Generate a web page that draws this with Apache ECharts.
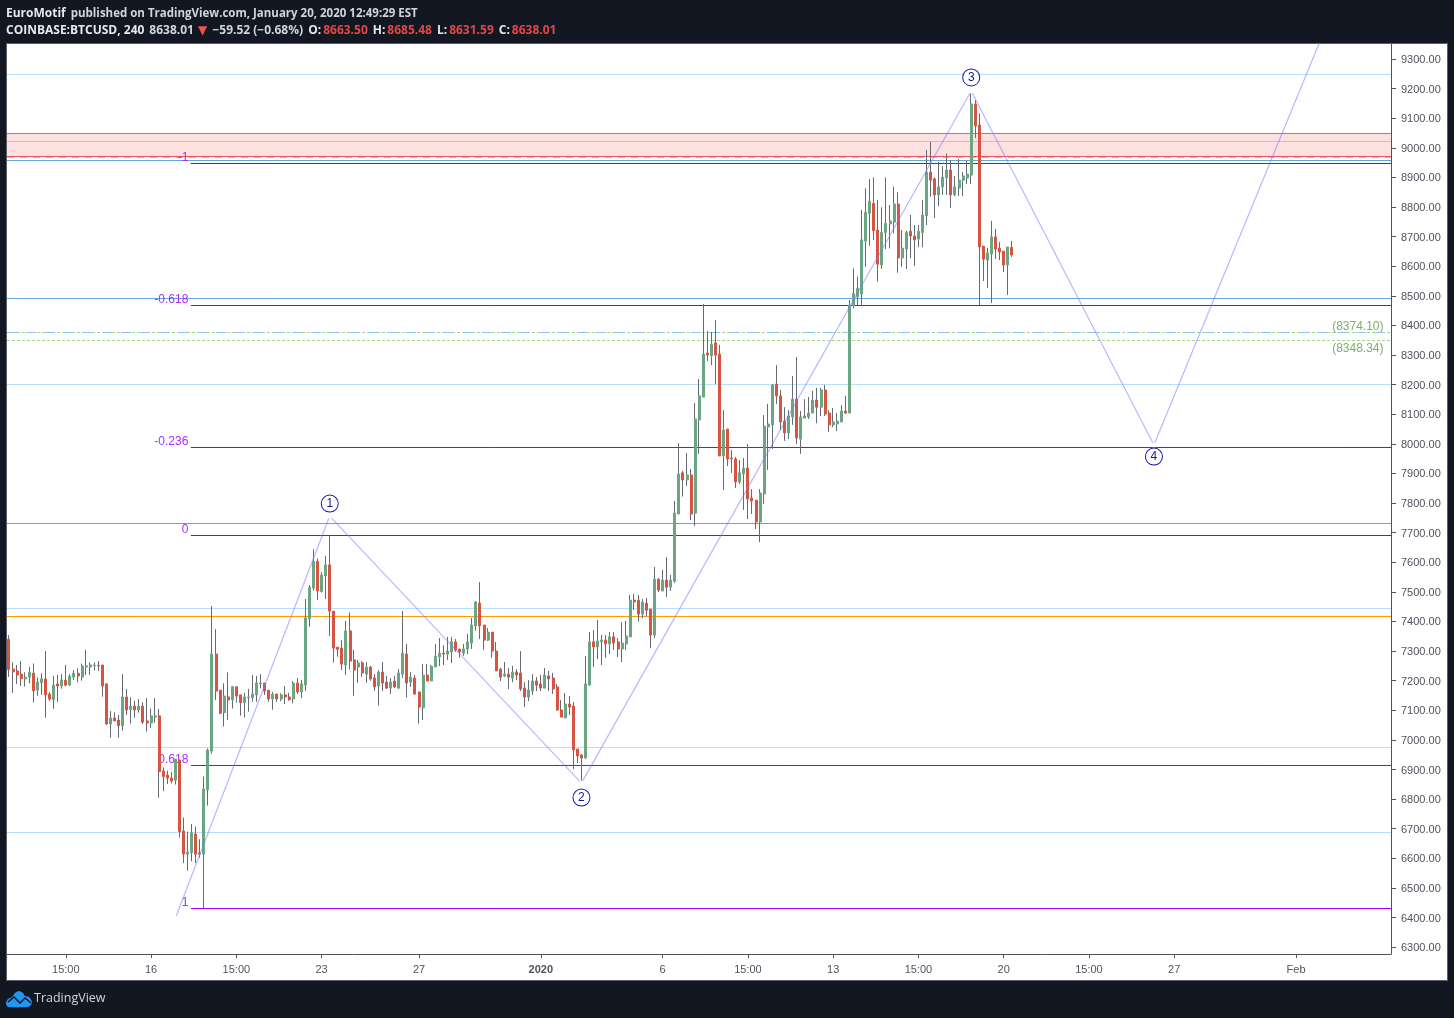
<!DOCTYPE html>
<html><head><meta charset="utf-8">
<style>html,body{margin:0;padding:0;background:#131722}#c{width:1454px;height:1018px}</style>
<script src="https://cdn.jsdelivr.net/npm/echarts@6/dist/echarts.min.js"></script>
</head><body><div id="c"></div>
<script>
// [open, close, low, high]
const ohlc = [
[7340,7238,7213,7354],[7239,7230,7159,7262],[7233,7219,7189,7253],[7222,7207,7182,7266],[7206,7212,7180,7228],[7212,7228,7191,7247],[7225,7166,7126,7258],[7168,7195,7149,7211],[7193,7206,7152,7225],[7206,7152,7075,7300],
[7155,7138,7132,7161],[7136,7185,7105,7216],[7189,7182,7128,7219],[7182,7202,7173,7222],[7202,7185,7180,7253],[7185,7215,7183,7222],[7212,7225,7202,7236],[7225,7216,7194,7242],[7212,7250,7200,7258],[7246,7250,7219,7304],
[7246,7253,7219,7262],[7250,7252,7234,7262],[7252,7250,7233,7266],[7253,7182,7146,7253],[7189,7054,7051,7191],[7054,7074,7007,7097],[7074,7064,7064,7093],[7067,7048,7007,7084],[7048,7145,7031,7222],[7145,7101,7084,7172],
[7103,7114,7055,7144],[7114,7101,7075,7132],[7101,7114,7092,7138],[7114,7060,7054,7127],[7064,7057,7028,7141],[7057,7081,7041,7106],[7077,7081,7058,7141],[7081,6893,6805,7104],[6895,6876,6827,6907],[6881,6871,6851,6896],
[6871,6861,6853,6891],[6864,6935,6849,6935],[6932,6690,6670,6932],[6692,6614,6584,6738],[6614,6621,6558,6690],[6619,6686,6590,6716],[6682,6614,6584,6707],[6618,6614,6602,6664],[6614,6834,6431,6876],[6831,6966,6778,6971],
[6962,7290,6953,7452],[7290,7165,7135,7374],[7168,7090,7087,7168],[7092,7148,7045,7191],[7145,7135,7067,7228],[7135,7180,7106,7180],[7179,7148,7126,7182],[7152,7126,7082,7152],[7126,7145,7075,7159],[7143,7145,7095,7172],
[7143,7155,7129,7219],[7152,7192,7129,7216],[7189,7192,7174,7222],[7192,7165,7152,7192],[7168,7138,7129,7168],[7138,7155,7102,7162],[7155,7138,7128,7155],[7138,7152,7131,7157],[7152,7145,7121,7182],[7145,7136,7132,7159],
[7138,7192,7124,7199],[7192,7162,7155,7209],[7162,7189,7141,7202],[7185,7412,7165,7476],[7409,7515,7382,7523],[7513,7602,7505,7644],[7602,7503,7472,7613],[7501,7557,7498,7566],[7554,7591,7476,7621],[7591,7435,7351,7690],
[7435,7310,7261,7435],[7313,7306,7281,7313],[7310,7256,7236,7337],[7253,7368,7219,7402],[7368,7266,7238,7430],[7270,7236,7149,7304],[7246,7260,7193,7270],[7260,7226,7213,7266],[7222,7246,7193,7263],[7246,7206,7200,7250],
[7209,7179,7165,7222],[7182,7229,7116,7236],[7229,7192,7165,7263],[7195,7175,7172,7216],[7175,7195,7155,7209],[7199,7179,7175,7216],[7175,7226,7172,7239],[7222,7293,7209,7435],[7290,7192,7143,7324],[7195,7212,7179,7229],
[7209,7155,7152,7219],[7162,7111,7055,7162],[7108,7219,7067,7256],[7219,7199,7199,7256],[7199,7249,7199,7253],[7246,7283,7246,7324],[7280,7293,7249,7344],[7293,7290,7253,7320],[7290,7300,7270,7348],[7297,7331,7260,7348],
[7331,7304,7297,7341],[7307,7297,7277,7307],[7293,7307,7284,7324],[7307,7331,7290,7358],[7327,7388,7307,7412],[7385,7466,7368,7469],[7462,7385,7341,7533],[7388,7337,7304,7388],[7337,7364,7334,7378],[7364,7300,7277,7364],
[7300,7233,7233,7331],[7239,7212,7199,7243],[7216,7222,7212,7263],[7222,7212,7172,7243],[7209,7229,7195,7250],[7229,7219,7202,7239],[7226,7172,7165,7300],[7175,7145,7111,7195],[7145,7168,7131,7202],[7165,7199,7152,7222],
[7199,7185,7165,7212],[7189,7175,7165,7219],[7175,7219,7175,7243],[7216,7206,7165,7233],[7209,7172,7155,7226],[7179,7101,7098,7189],[7101,7077,7077,7135],[7074,7121,7074,7158],[7121,7111,7084,7148],[7114,6966,6902,7128],
[6969,6946,6922,6969],[6949,6939,6851,6952],[6939,7189,6935,7283],[7185,7331,7185,7364],[7331,7314,7246,7371],[7314,7334,7273,7405],[7331,7337,7253,7354],[7337,7324,7277,7354],[7324,7348,7290,7364],[7348,7327,7304,7364],
[7331,7307,7280,7344],[7307,7327,7263,7398],[7324,7351,7304,7402],[7348,7472,7348,7489],[7472,7466,7439,7493],[7472,7425,7399,7489],[7425,7465,7411,7476],[7462,7438,7418,7479],[7442,7354,7310,7442],[7354,7543,7344,7584],
[7543,7506,7499,7546],[7503,7540,7503,7574],[7540,7516,7482,7617],[7516,7540,7503,7557],[7536,7766,7530,7807],[7763,7898,7763,8002],[7902,7878,7822,7908],[7878,7895,7858,7969],[7895,7763,7743,7915],[7766,8084,7723,8138],
[8081,8162,7966,8219],[8158,8303,8158,8472],[8307,8300,8280,8381],[8297,8337,8266,8378],[8341,8300,8202,8418],[8303,7959,7959,8334],[7959,8047,7844,8114],[8050,7949,7925,8050],[7952,7949,7902,7979],[7949,7871,7851,7956],
[7871,7902,7864,7945],[7898,7918,7777,7952],[7918,7814,7746,7999],[7817,7807,7763,7847],[7810,7736,7712,7810],[7736,7834,7668,7847],[7831,8060,7797,8097],[8057,8067,7912,8135],[8064,8199,7983,8202],[8202,8162,8135,8266],
[8162,8074,8047,8182],[8077,8037,8010,8124],[8037,8094,8016,8114],[8091,8151,8064,8229],[8151,8020,8000,8293],[8016,8091,7966,8111],[8087,8094,8087,8151],[8091,8104,8084,8158],[8104,8148,8104,8179],[8148,8124,8070,8189],
[8124,8182,8094,8189],[8182,8101,8094,8199],[8104,8064,8040,8114],[8064,8074,8057,8121],[8067,8077,8043,8104],[8074,8111,8074,8131],[8111,8104,8101,8162],[8104,8469,8104,8486],[8466,8508,8458,8593],[8497,8525,8469,8565],
[8506,8689,8466,8790],[8685,8782,8598,8863],[8779,8820,8669,8895],[8812,8720,8689,8900],[8722,8607,8548,8824],[8605,8714,8591,8799],[8714,8745,8658,8900],[8743,8753,8660,8807],[8749,8810,8711,8869],[8810,8628,8578,8850],
[8628,8661,8598,8722],[8658,8714,8591,8720],[8718,8702,8627,8773],[8702,8689,8601,8739],[8692,8718,8664,8739],[8714,8773,8664,8824],[8770,8918,8739,8993],[8918,8891,8835,9020],[8895,8841,8763,8901],[8841,8868,8803,8952],
[8868,8901,8841,8938],[8898,8925,8841,8981],[8925,8841,8797,8959],[8841,8868,8837,8905],[8864,8891,8837,8962],[8891,8905,8837,8918],[8898,8911,8878,8957],[8908,9148,8878,9184],[9148,9074,9033,9161],[9077,8665,8469,9116],
[8668,8624,8550,8668],[8621,8645,8526,8662],[8641,8699,8476,8753],[8699,8658,8624,8726],[8661,8648,8621,8682],[8651,8604,8580,8651],[8604,8665,8503,8665],[8663.5,8638.01,8631.59,8685.48]
];
const priceTicks = [6300,6400,6500,6600,6700,6800,6900,7000,7100,7200,7300,7400,7500,7600,7700,7800,7900,8000,8100,8200,8300,8400,8500,8600,8700,8800,8900,9000,9100,9200,9300];
const timeTickBars = [14,35,56,77,101,131,161,182,203,224,245,266,287,317];
const timeTickLabels = ['15:00','16','15:00','23','27','2020','6','15:00','13','15:00','20','15:00','27','Feb'];
const lightLevels = [9247.7,8200.5,7443.8,6974.3,6687.1];
const innerLevel = 9021.3;
const blueLevels = [8957.2,8491.0,7730.9];
const fibLevels = [8947.0,8467.3,7987.7,7690.4,6913.5,6430.4];
const fibNames = ['-1','-0.618','-0.236','0','0.618','1'];
const zoneTop = 9048.4, zoneBottom = 8970.7, zoneDash = 8967.3;
const orangeLevel = 7416.8;
const dashBlueLevel = 8376.1;
const greenLevels = [8376.1,8349.1];
const greenNames = ['(8374.10)','(8348.34)'];
const waveBars = [41,79,141,237,282,328];
const wavePrices = [6398,7756,6854,9192,7996,9530];
const waveNames = ['','1','2','3','4',''];
const waveLabelGap = [0,10,12,11,9,0];

const XMIN = -0.49, XMAX = 340.39, FIB_START = 44.8;
const sans = '"Liberation Sans", Arial, sans-serif';
const head = '"Open Sans", sans-serif';
const C_UP = '#6ba583', C_DN = '#d75442', C_WICK = '#666a72', C_AXIS = '#50535e';

function hLine(price, color, width, type, start, z) {
  return {type:'line', data:[[start,price],[XMAX,price]], symbol:'none', silent:true, animation:false, z:z,
    lineStyle:{color:color,width:width,type:type||'solid'}};
}
const hiddenDot = {symbol:'circle',symbolSize:1,itemStyle:{color:'rgba(0,0,0,0)',borderWidth:0}};
const series = [];
series.push({type:'line', data:[], silent:true, animation:false, z:1,
  markArea:{silent:true, itemStyle:{color:'#fde0e0'}, data:[[{xAxis:XMIN,yAxis:zoneTop},{xAxis:XMAX,yAxis:zoneBottom}]]}});
series.push(hLine(zoneTop,'#ef5f58',1,'solid',XMIN,2));
series.push(hLine(zoneBottom,'#ef5350',1,'solid',XMIN,2));
series.push(hLine(zoneDash,'#b8bcc4',1,[7,6],XMIN,2));
series.push(hLine(innerLevel,'#a3cdf0',1,'solid',XMIN,2));
lightLevels.forEach(p => series.push(hLine(p,'#b8dffb',1,'solid',XMIN,2)));
blueLevels.forEach(p => series.push(hLine(p,'#62a6e0',1,'solid',XMIN,2)));
series.push(hLine(orangeLevel,'#ff9800',1,'solid',XMIN,3));
greenLevels.forEach((p,k) => {
  const s = hLine(p,'#a5d48c',1,[3,2],XMIN,2);
  s.data = [[XMIN,p],Object.assign({value:[XMAX,p],label:{show:true,position:'left',distance:2,formatter:greenNames[k],color:'#7bb06a',fontSize:12,fontFamily:sans,offset:[-5,k===0?-5.5:8]}},hiddenDot)];
  series.push(s);
});
series.push(hLine(dashBlueLevel,'#8fc1ee',1,[10,9],XMIN,3));
fibLevels.forEach((p,k) => {
  const s = hLine(p, k===5 ? '#9900ff' : '#7a10cc', 1, 'solid', FIB_START, 3);
  s.data = [Object.assign({value:[FIB_START,p],label:{show:true,position:'left',distance:2,formatter:fibNames[k],color:'#a62cff',fontSize:12,fontFamily:sans,offset:[0,-6]}},hiddenDot),[XMAX,p]];
  series.push(s);
});
series.push({type:'candlestick', name:'wick', data: ohlc.map((d,i)=>[i,d[0],d[1],d[2],d[3]]), barWidth:1, silent:true, animation:false, z:4,
  itemStyle:{color:C_WICK,color0:C_WICK,borderColor:C_WICK,borderColor0:C_WICK,borderWidth:1}});
series.push({type:'candlestick', name:'BTCUSD', data: ohlc.map((d,i)=>[i,d[0],d[1],Math.min(d[0],d[1]),Math.max(d[0],d[1])]), barWidth:2.5, silent:true, animation:false, z:5,
  itemStyle:{color:C_UP,color0:C_DN,borderColor:C_UP,borderColor0:C_DN,borderWidth:1}});
series.push({type:'line', silent:true, animation:false, z:6,
  data: waveBars.map((b,k)=>({value:[b,wavePrices[k]],
    symbol: k===5?'none':'emptyCircle', symbolSize:3,
    label: waveNames[k] ? {show:true, formatter:waveNames[k], position:(k===2||k===4)?'bottom':'top', distance:waveLabelGap[k],
      width:16,height:16,lineHeight:16,align:'center',verticalAlign:'middle',borderRadius:8.5,borderWidth:1,borderColor:'#1212a8',backgroundColor:'#fff',color:'#14148c',fontSize:12,fontFamily:sans} : {show:false}})),
  lineStyle:{color:'rgba(120,120,255,0.5)',width:1.3},
  itemStyle:{color:'#fff',borderColor:'rgba(120,120,255,0.7)',borderWidth:1}
});

const chart = echarts.init(document.getElementById('c'), null, {renderer:'canvas'});
const bStyle = {fontWeight:'bold',color:'#e6e8ee',fontSize:12,fontFamily:head};
const nStyle = {color:'#d1d4dc',fontSize:12,fontFamily:head};
chart.setOption({
  animation:false,
  backgroundColor:'#131722',
  title:[
    {left:6,top:5,padding:0,text:'{b|EuroMotif} {n|published on TradingView.com, January 20, 2020 12:49:29 EST}',
      textStyle:{rich:{b:bStyle,n:{color:'#d1d4dc',fontSize:11.5,fontFamily:head}}}},
    {left:6,top:22,padding:0,text:'{b|COINBASE:BTCUSD, 240} {n|8638.01 }{t|▼}{n| −59.52 (−0.68%) }{o|O:}{r|8663.50} {k|H:}{r|8685.48} {k|L:}{r|8631.59} {k|C:}{r|8638.01}',
      textStyle:{rich:{b:bStyle,k:Object.assign({padding:[0,2,0,0]},bStyle),o:Object.assign({padding:[0,2,0,2]},bStyle),n:nStyle,r:{color:'#e04848',fontSize:12,fontFamily:head},t:{color:'#ef5350',fontSize:12,fontFamily:'"DejaVu Sans"',padding:[0,2,0,1]}}}}
  ],
  graphic:[
    {type:'rect',z:-10,silent:true,shape:{x:6.5,y:43.5,width:1441,height:937},style:{fill:'#fff',stroke:'#5b5e68',lineWidth:1}},
    {type:'polygon',silent:true,z:10,shape:{smooth:0.3,points:[[6,1003],[8,999],[12,997],[15,993],[19,991],[23,993],[25,996],[29,997],[32,1002],[30,1006],[27,1007],[9,1007],[7,1006]]},style:{fill:'#2196f3'}},
    {type:'polyline',silent:true,z:11,shape:{points:[[8,1002],[14,997],[20,1003],[25,998],[31,1003]]},style:{fill:'none',stroke:'#131722',lineWidth:1.5}},
    {type:'text',silent:true,z:10,x:34,y:992,style:{text:'TradingView',fill:'#d1d4dc',font:'12.5px "Open Sans", sans-serif'}}
  ],
  grid:{left:7,right:63,top:44,bottom:64,show:false},
  xAxis:{type:'value',min:XMIN,max:XMAX,splitLine:{show:false},
    axisLine:{onZero:false,lineStyle:{color:C_AXIS}},
    axisTick:{customValues:timeTickBars,length:4,lineStyle:{color:C_AXIS}},
    axisLabel:{customValues:timeTickBars,margin:10,fontSize:11,fontFamily:sans,color:'#50535e',
      formatter:v=>{const s=timeTickLabels[timeTickBars.indexOf(v)]; return s==='2020'?'{b|2020}':s;},
      rich:{b:{fontWeight:'bold',fontSize:11,fontFamily:sans,color:'#50535e'}}}
  },
  yAxis:{type:'value',position:'right',min:6276.7,max:9350.7,splitLine:{show:false},
    axisLine:{show:true,onZero:false,lineStyle:{color:C_AXIS}},
    axisTick:{show:true,customValues:priceTicks,length:5,lineStyle:{color:C_AXIS}},
    axisLabel:{customValues:priceTicks,margin:10,fontSize:11,fontFamily:sans,color:'#50535e',
      formatter:v=>'{a|'+v.toFixed(2)+'}',
      rich:{a:{fontSize:11,fontFamily:sans,color:'#50535e',padding:[2,0,0,0]}}}
  },
  series:series
});
</script></body></html>
